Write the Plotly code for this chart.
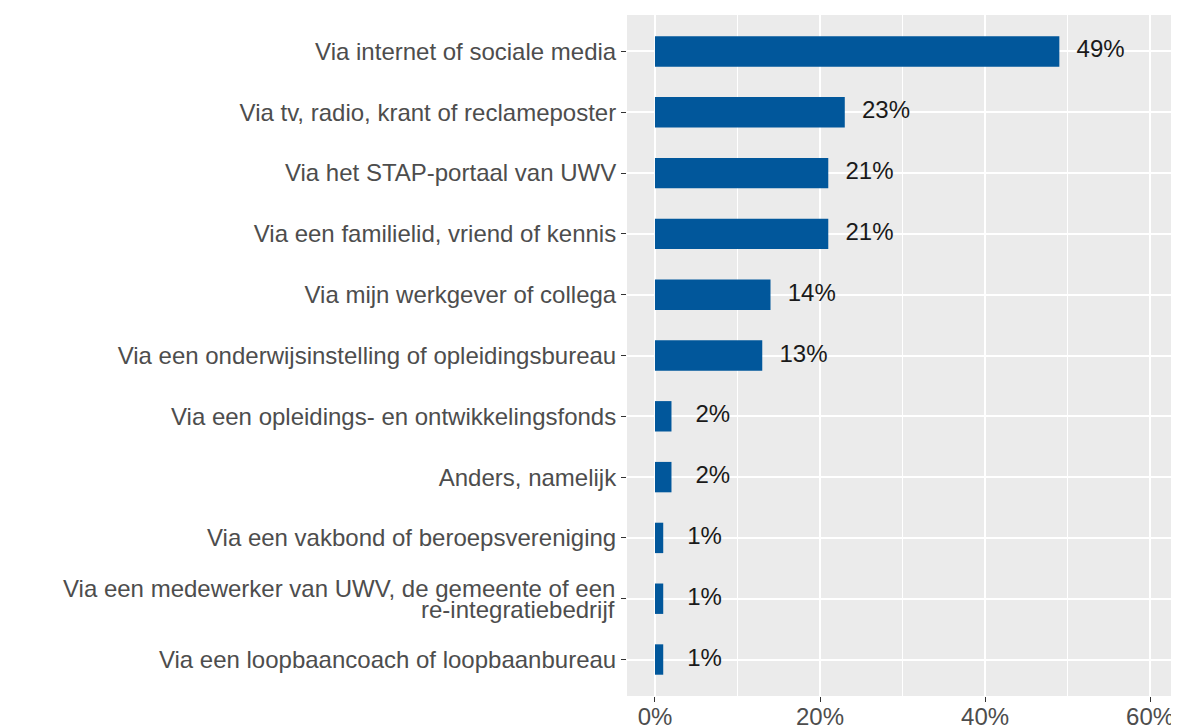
import plotly.graph_objects as go

categories = [
    "Via internet of sociale media",
    "Via tv, radio, krant of reclameposter",
    "Via het STAP-portaal van UWV",
    "Via een familielid, vriend of kennis",
    "Via mijn werkgever of collega",
    "Via een onderwijsinstelling of opleidingsbureau",
    "Via een opleidings- en ontwikkelingsfonds",
    "Anders, namelijk",
    "Via een vakbond of beroepsvereniging",
    "Via een medewerker van UWV, de gemeente of een<br>re-integratiebedrijf",
    "Via een loopbaancoach of loopbaanbureau",
]
values = [49, 23, 21, 21, 14, 13, 2, 2, 1, 1, 1]
labels = [f"{v}%" for v in values]
x_ticks = [0, 20, 40, 60]
x_tick_labels = ["0%", "20%", "40%", "60%"]

label_offset = 5
font_family = "Liberation Sans, Arial, sans-serif"
fs = 24

fig = go.Figure()
fig.add_trace(go.Bar(
    x=values, y=categories, orientation="h",
    marker=dict(color="#01579B", line=dict(width=0)),
    width=0.5, hoverinfo="skip",
))
fig.add_trace(go.Scatter(
    x=[v + label_offset for v in values], y=categories, mode="text",
    text=labels, textposition="middle center",
    textfont=dict(family=font_family, size=fs, color="#1a1a1a"),
    hoverinfo="skip",
))

# multi-line category labels drawn as annotations for tighter line spacing
tick_text = []
for c in categories:
    if "<br>" in c:
        tick_text.append("")
        lines = c.split("<br>")
        n = len(lines)
        for i, line in enumerate(lines):
            fig.add_annotation(
                x=0, xref="paper", y=c, yref="y",
                text=line, showarrow=False, xanchor="right", yanchor="middle",
                xshift=-10, yshift=(n - 1) * 10.5 - i * 21,
                font=dict(family=font_family, size=fs, color="#4D4D4D"),
            )
    else:
        tick_text.append(c)

fig.update_layout(
    width=1171, height=740,
    margin=dict(l=619, r=0, t=7, b=52),
    paper_bgcolor="white", plot_bgcolor="#EBEBEB",
    showlegend=False,
    font=dict(family=font_family, size=fs, color="#4D4D4D"),
    bargap=0.5,
)
fig.update_xaxes(
    range=[-3.39, 63.5], tickvals=x_ticks, ticktext=x_tick_labels,
    automargin=False, ticklabelstandoff=-6,
    showgrid=True, gridcolor="white", gridwidth=1.6,
    minor=dict(tickvals=[10, 30, 50], showgrid=True, gridcolor="white", gridwidth=0.8, ticklen=0),
    ticks="outside", ticklen=5, tickcolor="#333333", tickwidth=1.2,
    zeroline=False, showline=False,
    tickfont=dict(size=fs, color="#4D4D4D"),
)
fig.update_yaxes(
    categoryorder="array", categoryarray=categories[::-1],
    tickvals=categories, ticktext=tick_text,
    automargin=False,
    range=[-0.6, len(categories) - 0.4],
    showgrid=True, gridcolor="white", gridwidth=1.6,
    ticks="outside", ticklen=5, tickcolor="#333333", tickwidth=1.2,
    zeroline=False, showline=False,
    tickfont=dict(size=fs, color="#4D4D4D"),
)

fig.write_html("out.html")
